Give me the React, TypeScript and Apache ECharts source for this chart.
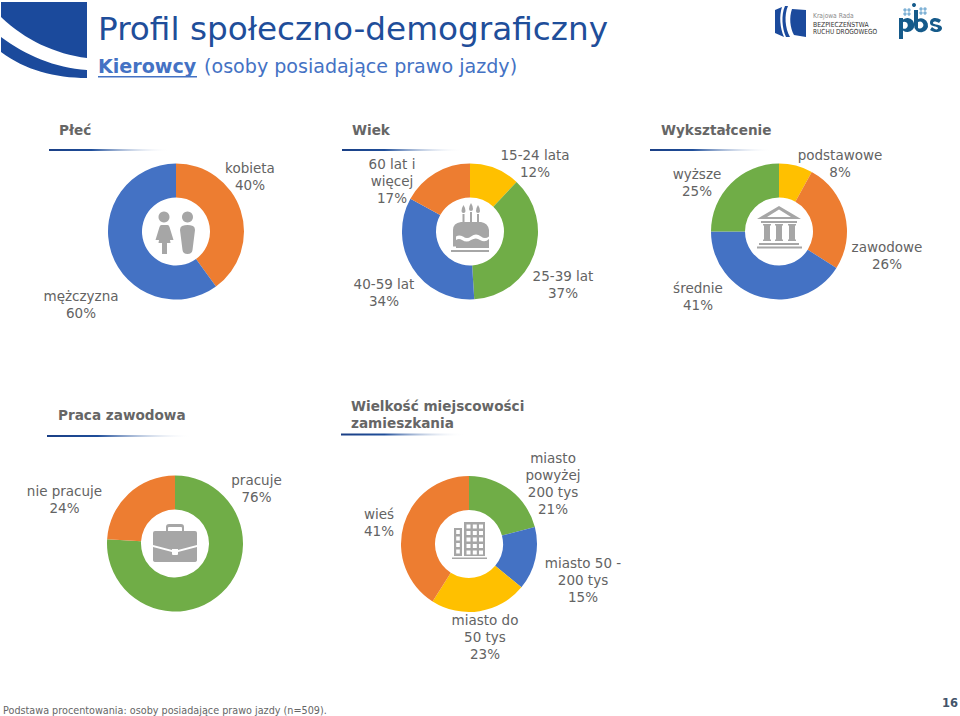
import React, { useEffect, useRef } from "react";
import * as echarts from "echarts";

const FONT = "'DejaVu Sans', Verdana, sans-serif";
const BLUE = "#4472C4", ORANGE = "#ED7D31", GREEN = "#70AD47", YELLOW = "#FFC000";
const TXT = "#636363", ICON = "#A6A6A6", NAVY = "#1B4A9C";

const genderNames = ["kobieta", "mężczyzna"];
const genderValues = [40, 60];
const ageNames = ["15-24 lata", "25-39 lat", "40-59 lat", "60 lat i\nwięcej"];
const ageValues = [12, 37, 34, 17];
const eduNames = ["podstawowe", "zawodowe", "średnie", "wyższe"];
const eduValues = [8, 26, 41, 25];
const workNames = ["pracuje", "nie pracuje"];
const workValues = [76, 24];
const townNames = ["miasto\npowyżej\n200 tys", "miasto 50 -\n200 tys", "miasto do\n50 tys", "wieś"];
const townValues = [21, 15, 23, 41];

const reg = (name: string, d: string) =>
  echarts.graphic.registerShape(name, echarts.graphic.extendPath(d as any, {}) as any);

reg("logoMain", "M1 2 L87 2 L87 58 C55 54 25 40 1 17 Z");
reg("logoBand", "M1 37 C25 55 55 68 87 70 L87 78 C55 78 25 70 1 52 Z");
reg("krbrd", "M775 10 L782 7 C779 16 780 28 784 37 L775 33 Z M785 6 L788 6 C784 15 785 28 790 37 L786 37 C782 28 781 15 785 6 Z M792 9 L806 10 L806 37 L794 35 C790 28 789 17 792 9 Z");
reg("pbsP", "M899 18 h4 v1.500 a7 7 0 1 1 0 11 v8.500 h-4 Z M903 22 v6.500 a3.500 3.500 0 1 0 0 -6.500 Z");
reg("pbsB", "M914 10 h4 v9 a7 7 0 1 1 -4 6 Z M918 22 v6 a3.500 3.500 0 1 0 0 -6 Z");
reg("pbsS", "M941 20 L939 23 C936 21 933 21 933 23 C933 25 942 24 942 28 C942 33 934 33 930 30 L932 27 C935 30 938 30 938 28 C938 26 930 27 930 23 C930 17 937 17 941 20 Z");
reg("female", "M164 211.500 a5.500 5.500 0 1 1 -.01 0 Z M160.500 225 h7 q1.500 0 2 2 l4 13 h-3.500 l-.5 -3 l1 6 h-3.500 v11 h-5 v-11 h-3.500 l1 -6 l-.5 3 h-3.500 l4 -13 q.5 -2 2 -2 Z");
reg("male", "M187.500 211.500 a5.500 5.500 0 1 1 -.01 0 Z M182 226 q5.500 -2 11 0 q2 1 2 4 l-2.500 20 q-.5 4 -5 4 q-4.500 0 -5 -4 l-2.500 -20 q0 -3 2 -4 Z");
reg("cake", "M461.500 211 q0 -3 2 -6 q2 3 2 6 q0 2 -2 2 q-2 0 -2 -2 Z M469 209 q0 -3 2 -6 q2 3 2 6 q0 2 -2 2 q-2 0 -2 -2 Z M476 211 q0 -3 2 -6 q2 3 2 6 q0 2 -2 2 q-2 0 -2 -2 Z M462.500 214 h2 v9 h-2 Z M470 212 h2 v11 h-2 Z M477 214 h2 v9 h-2 Z M453 230 q0 -7 8 -8 h20 q7 1 8 8 v6.500 q-4 3 -8 0 q-5 -4 -10 0 q-4 3 -8 0 q-4 -2 -7 0 v10 h-3 Z M456 240 q3 -2 6 0 q5 3 9 0 q5 -3 9 0 q5 3 9 -1 v9 h-33 Z M451 250 h38 v2 h-38 Z");
reg("bank", "M779 206 L801 219 L757 219 Z M779 209.500 L767 217 L791 217 Z M761 221 h36 v2 h-36 Z M763 224 h8 v1 l-1 1 v13 l1 1 v1 h-8 v-1 l1 -1 v-13 l-1 -1 Z M775 224 h8 v1 l-1 1 v13 l1 1 v1 h-8 v-1 l1 -1 v-13 l-1 -1 Z M788 224 h8 v1 l-1 1 v13 l1 1 v1 h-8 v-1 l1 -1 v-13 l-1 -1 Z M759 243 h40 v2 h-40 Z M757 246.500 h45 v2 h-45 Z");
reg("case", "M166 527 q0 -3 3 -3 h12 q3 0 3 3 v4 h-2 v-3 q0 -1 -1 -1 h-12 q-1 0 -1 1 v3 h-2 Z M153 533 q0 -2 2 -2 h40 q2 0 2 2 v12 l-19 5 v-1 h-6 v1 l-19 -5 Z M153 547 l19 5 v2 q0 1 1 1 h4 q1 0 1 -1 v-2 l19 -5 v13 q0 2 -3 2 h-38 q-3 0 -3 -2 Z");
reg("city", "M454 528 h8 v28 h-8 Z M464 522 h21 v34 h-21 Z M452 557.500 h35 v1.500 h-35 Z");

const TEXTS: Record<number, [number, number][]> = {
  0: [[250, 176], [81, 304]],
  1: [[535, 163], [563, 284], [384, 292], [392, 181]],
  2: [[840, 163], [887, 255], [698, 296], [697, 182]],
  3: [[256.5, 488], [64.5, 499]],
  4: [[553, 483], [583, 580], [485, 637], [379, 522]],
};

const pie = (i: number, cx: number, cy: number, names: string[], values: number[], colors: string[]) => ({
  type: "pie",
  center: [cx, cy],
  radius: [34, 68],
  startAngle: 90,
  clockwise: true,
  avoidLabelOverlap: false,
  silent: true,
  data: names.map((name, k) => ({ name, value: values[k], itemStyle: { color: colors[k] } })),
  label: {
    show: true,
    position: "outside",
    formatter: "{b}\n{c}%",
    fontFamily: FONT,
    fontSize: 13.5,
    lineHeight: 17,
    color: TXT,
    align: "center",
    overflow: "none",
  },
  labelLine: { show: false },
  labelLayout: (p: any) => ({
    x: TEXTS[i][p.dataIndex][0],
    y: TEXTS[i][p.dataIndex][1],
    align: "center",
    verticalAlign: "middle",
    hideOverlap: false,
  }),
});

const rule = (x: number, y: number, w: number) => ({
  type: "rect",
  shape: { x, y, width: w, height: 2 },
  style: {
    fill: new echarts.graphic.LinearGradient(0, 0, 1, 0, [
      { offset: 0, color: "#1A3F85" },
      { offset: 0.35, color: "#1F4E9A" },
      { offset: 1, color: "rgba(255,255,255,0)" },
    ]),
  },
});

const head = (x: number, y: number, text: string) => ({
  type: "text",
  x,
  y,
  style: { text, font: `bold 13.600px ${FONT}`, fill: "#666666", lineHeight: 17 },
});

const shape = (type: string, fill: string) => ({ type, style: { fill } });

const win = (x: number, y: number, w: number, h: number) => ({
  type: "rect",
  shape: { x, y, width: w, height: h },
  style: { fill: "#fff" },
});

const cityWindows: any[] = [];
for (const y of [530, 536.5, 543, 549.5]) cityWindows.push(win(456.2, y, 3.6, 4));
for (const y of [524.5, 531, 537.5, 544, 550.5])
  for (const x of [466.5, 472.8, 479]) cityWindows.push(win(x, y, 4, 4));

export default function App() {
  const ref = useRef<HTMLDivElement>(null);
  useEffect(() => {
    const chart = echarts.init(ref.current!, undefined, { renderer: "svg" });
    chart.setOption({
      animation: false,
      backgroundColor: "#fff",
      series: [
        pie(0, 176, 231.5, genderNames, genderValues, [ORANGE, BLUE]),
        pie(1, 470, 231.5, ageNames, ageValues, [YELLOW, GREEN, BLUE, ORANGE]),
        pie(2, 779, 231.5, eduNames, eduValues, [YELLOW, ORANGE, BLUE, GREEN]),
        pie(3, 175, 543.5, workNames, workValues, [GREEN, ORANGE]),
        pie(4, 469, 544, townNames, townValues, [GREEN, BLUE, YELLOW, ORANGE]),
      ],
      graphic: [
        shape("logoMain", NAVY),
        shape("logoBand", NAVY),
        { type: "text", x: 98, y: 12, style: { text: "Profil społeczno-demograficzny", font: `32.700px ${FONT}`, fill: "#1F4E9A" } },
        { type: "text", x: 98, y: 57, style: { text: "Kierowcy", font: `bold 19.100px ${FONT}`, fill: "#4472C4" } },
        { type: "rect", shape: { x: 98, y: 76, width: 99, height: 1.5 }, style: { fill: "#4472C4" } },
        { type: "text", x: 204, y: 57, style: { text: "(osoby posiadające prawo jazdy)", font: `19.100px ${FONT}`, fill: "#4472C4" } },
        shape("krbrd", NAVY),
        { type: "text", x: 813, y: 12.5, scaleX: 0.85, style: { text: "Krajowa Rada", font: `7px ${FONT}`, fill: "#8a8a8a" } },
        { type: "text", x: 813, y: 21, scaleX: 0.87, style: { text: "BEZPIECZEŃSTWA", font: `7px ${FONT}`, fill: "#333" } },
        { type: "text", x: 813, y: 28, scaleX: 0.84, style: { text: "RUCHU DROGOWEGO", font: `7px ${FONT}`, fill: "#333" } },
        shape("pbsP", "#155A8A"),
        shape("pbsB", "#155A8A"),
        shape("pbsS", "#155A8A"),
        ...[[914, 5]].map(([cx, cy]) => ({ type: "circle", shape: { cx, cy, r: 2 }, style: { fill: "#155A8A" } })),
        ...[[905, 10], [909, 10], [905, 14], [909, 14], [921, 9], [925, 9], [921, 13], [925, 13]].map(([cx, cy]) => ({ type: "circle", shape: { cx, cy, r: 1.7 }, style: { fill: "#7FB2D6" } })),
        head(59, 121, "Płeć"),
        rule(49, 149, 121),
        head(352, 121, "Wiek"),
        rule(342, 149, 121),
        head(661, 121, "Wykształcenie"),
        rule(650, 149, 122),
        head(58, 406, "Praca zawodowa"),
        rule(47, 435, 145),
        head(351, 397, "Wielkość miejscowości\nzamieszkania"),
        rule(341, 433.5, 124),
        shape("female", ICON),
        shape("male", ICON),
        shape("cake", ICON),
        shape("bank", ICON),
        shape("case", ICON),
        shape("city", ICON),
        ...cityWindows,
        { type: "text", x: 3, y: 704, scaleX: 0.878, style: { text: "Podstawa procentowania: osoby posiadające prawo jazdy (n=509).", font: `11px ${FONT}`, fill: "#666666" } },
        { type: "text", x: 958, y: 703, style: { text: "16", font: `bold 11.500px ${FONT}`, fill: "#44546A", align: "right", verticalAlign: "middle" } },
      ],
    });
    return () => chart.dispose();
  }, []);
  return <div ref={ref} style={{ position: "absolute", left: 0, top: 0, width: 960, height: 716 }} />;
}
